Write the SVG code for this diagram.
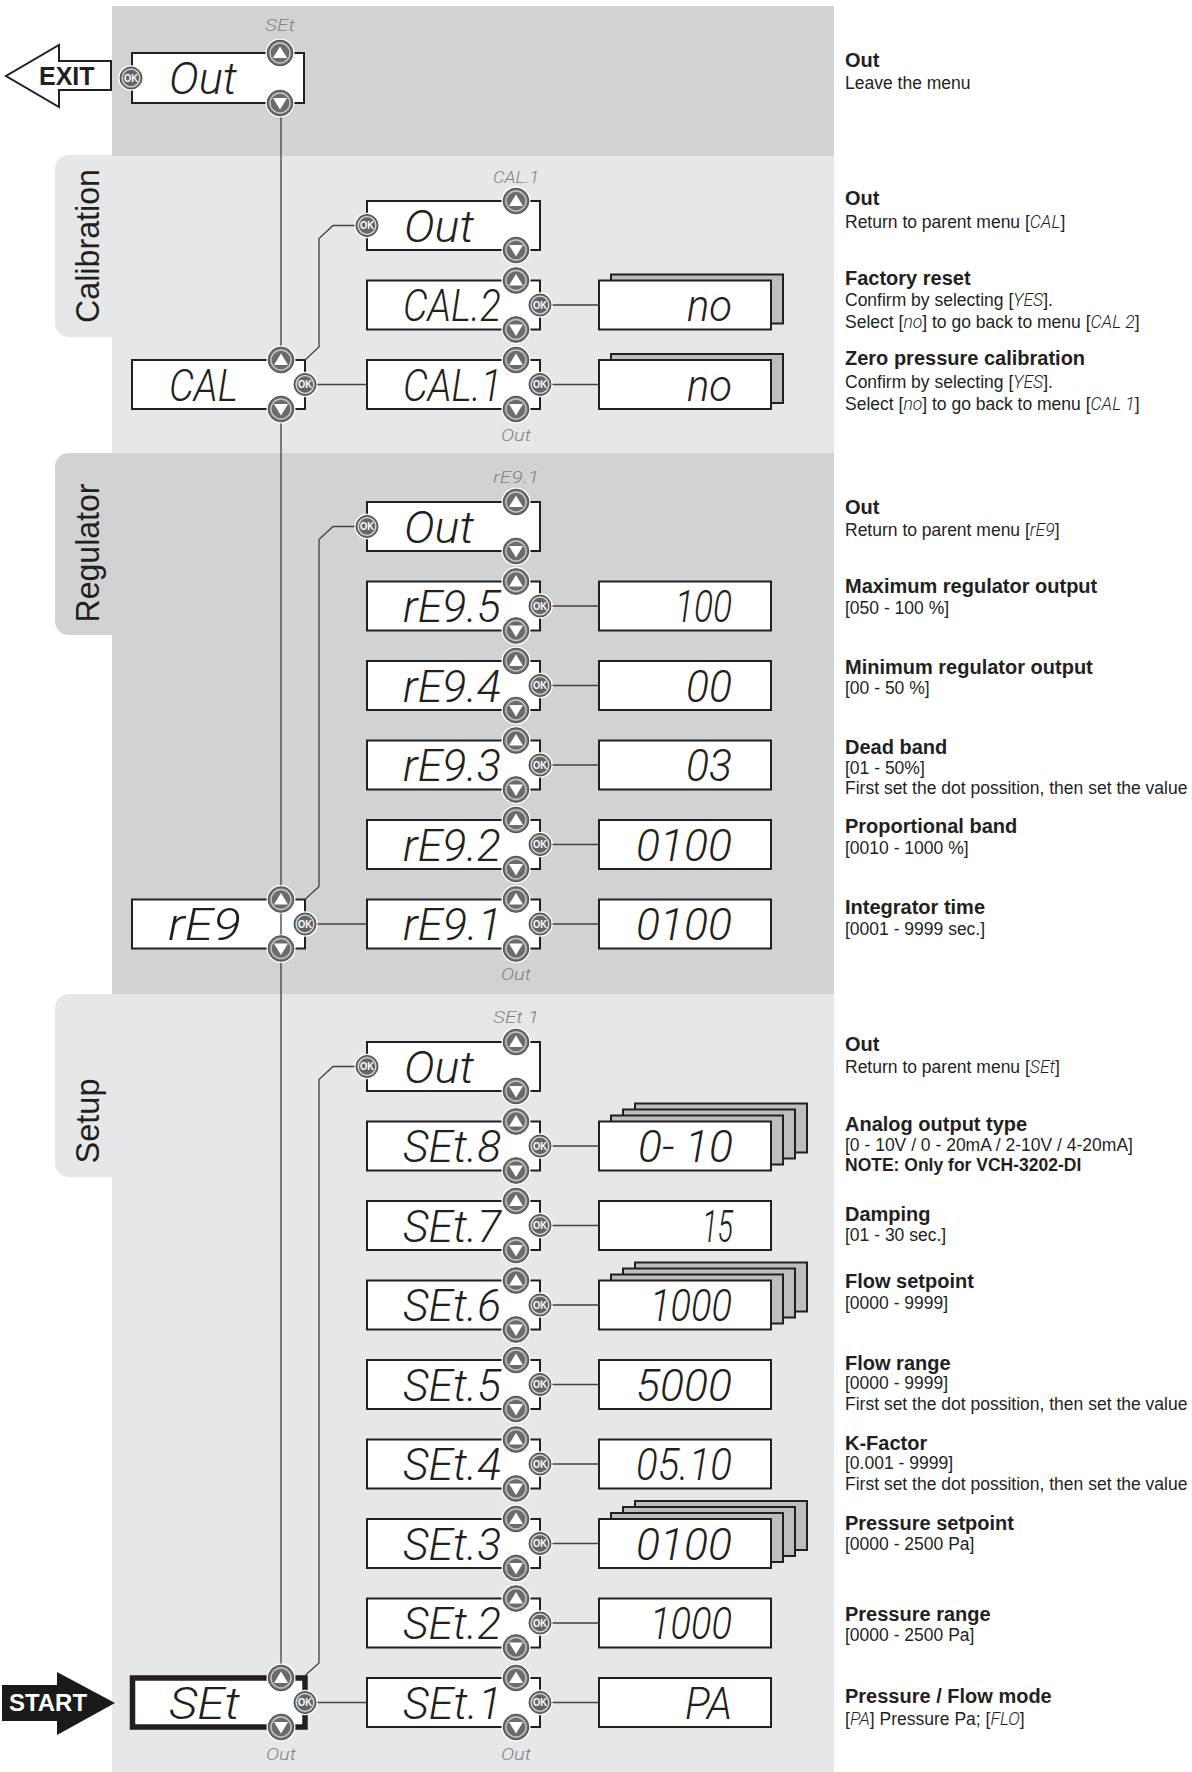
<svg xmlns="http://www.w3.org/2000/svg" width="1192" height="1772" viewBox="0 0 1192 1772">
<defs>
<style>
.pd{fill:#d1d2d4}
.pl{fill:#e6e7e8}
.box{fill:#fff;stroke:#231f20;stroke-width:2}
.bold{fill:#fff;stroke:#231f20;stroke-width:5.5}
.sh{fill:#bcbec0;stroke:#231f20;stroke-width:2}
.seg{font-family:Roboto,"Liberation Sans",sans-serif;font-weight:300;font-style:italic;font-size:45px;fill:#231f20}
.val{font-family:Roboto,"Liberation Sans",sans-serif;font-weight:300;font-style:italic;font-size:45px;fill:#231f20;text-anchor:end}
.lbl{font-family:Roboto,"Liberation Sans",sans-serif;font-weight:300;font-style:italic;font-size:17px;fill:#808285;text-anchor:middle}
.tab{font-family:"Liberation Sans",Arial,sans-serif;font-size:34px;fill:#231f20;text-anchor:middle}
.t{font-family:"Liberation Sans",Arial,sans-serif;font-weight:bold;font-size:20px;fill:#231f20}
.d{font-family:"Liberation Sans",Arial,sans-serif;font-size:17.5px;fill:#231f20}
.nb{font-family:"Liberation Sans",Arial,sans-serif;font-weight:bold;font-size:17.5px;fill:#231f20}
.s{font-family:Roboto,"Liberation Sans",sans-serif;font-weight:300;font-style:italic}
.ln{fill:none;stroke:#414042;stroke-width:1.3}
</style>
<g id="up">
<circle r="14.5" fill="#fff"/>
<circle r="12.8" fill="#6d6e71" stroke="#4d4d4f" stroke-width="1"/>
<circle r="10" fill="#6a6b6e" stroke="#c4c5c7" stroke-width="1.4"/>
<path d="M0,-6.5 L7,5 L-7,5 Z" fill="#fff"/>
</g>
<g id="dn">
<circle r="14.5" fill="#fff"/>
<circle r="12.8" fill="#6d6e71" stroke="#4d4d4f" stroke-width="1"/>
<circle r="10" fill="#6a6b6e" stroke="#c4c5c7" stroke-width="1.4"/>
<path d="M0,6.5 L7,-5 L-7,-5 Z" fill="#fff"/>
</g>
<g id="ok">
<circle r="12.8" fill="#fff"/>
<circle r="11" fill="#6d6e71" stroke="#4d4d4f" stroke-width="1"/>
<circle r="8.8" fill="#646568" stroke="#d8d9da" stroke-width="1.3"/>
<text y="3.8" text-anchor="middle" font-family="Liberation Sans, Arial, sans-serif" font-weight="bold" font-size="10.5" fill="#fff" textLength="14" lengthAdjust="spacingAndGlyphs">OK</text>
</g>
</defs>

<g id="panels">
<rect class="pd" x="112" y="6" width="722" height="150"/>
<rect class="pl" x="112" y="156" width="722" height="297"/>
<path class="pl" d="M112,155 H69 A14,14 0 0 0 55,169 V323 A14,14 0 0 0 69,337 H112 Z"/>
<rect class="pd" x="112" y="453" width="722" height="541"/>
<path class="pd" d="M112,453 H69 A14,14 0 0 0 55,467 V621 A14,14 0 0 0 69,635 H112 Z"/>
<rect class="pl" x="112" y="994" width="722" height="778"/>
<path class="pl" d="M112,994 H69 A14,14 0 0 0 55,1008 V1163 A14,14 0 0 0 69,1177 H112 Z"/>
<text class="tab" transform="translate(99,246) rotate(-90)" textLength="154" lengthAdjust="spacingAndGlyphs">Calibration</text>
<text class="tab" transform="translate(99,553) rotate(-90)" textLength="139" lengthAdjust="spacingAndGlyphs">Regulator</text>
<text class="tab" transform="translate(99,1121) rotate(-90)" textLength="85" lengthAdjust="spacingAndGlyphs">Setup</text>
</g>

<g id="exit">
<polygon points="111,61 59,61 59,45 6,76 59,107 59,90 111,90" fill="#fff" stroke="#231f20" stroke-width="2"/>
<text x="39" y="85" font-family="Liberation Sans, Arial, sans-serif" font-weight="bold" font-size="25" fill="#231f20">EXIT</text>
</g>

<g id="start">
<polygon points="2,1685 57,1685 57,1672 115,1703 57,1735 57,1721 2,1721" fill="#1a1a1a"/>
<text x="9" y="1711" font-family="Liberation Sans, Arial, sans-serif" font-weight="bold" font-size="23" fill="#fff" textLength="78" lengthAdjust="spacingAndGlyphs">START</text>
</g>

<g id="menu-out">
<rect class="box" x="132" y="53" width="172" height="50"/>
<text class="seg" x="169" y="94" textLength="68" lengthAdjust="spacingAndGlyphs">Out</text>
<use href="#ok" x="131" y="78"/>
<use href="#up" x="280" y="53"/>
<use href="#dn" x="280" y="103"/>
<text class="lbl" x="280" y="31" textLength="30" lengthAdjust="spacingAndGlyphs">SEt</text>
</g>

<!-- Calibration -->
<g id="cal">
<rect class="box" x="132" y="360" width="173" height="49"/>
<text class="seg" x="169" y="400.5" textLength="69" lengthAdjust="spacingAndGlyphs">CAL</text>
<use href="#up" x="281" y="360"/>
<use href="#dn" x="281" y="409"/>
<use href="#ok" x="305" y="384.5"/>
</g>
<g id="cal-out">
<rect class="box" x="367" y="201" width="173" height="49"/>
<text class="seg" x="404" y="241.5" textLength="70" lengthAdjust="spacingAndGlyphs">Out</text>
<use href="#ok" x="367" y="225.5"/>
<use href="#up" x="516" y="201"/>
<use href="#dn" x="516" y="250"/>
<text class="lbl" x="516" y="183" textLength="46" lengthAdjust="spacingAndGlyphs">CAL.1</text>
</g>
<g id="cal2">
<rect class="box" x="367" y="280.5" width="173" height="49"/>
<text class="seg" x="403" y="321" textLength="98" lengthAdjust="spacingAndGlyphs">CAL.2</text>
<use href="#up" x="516" y="280.5"/>
<use href="#dn" x="516" y="329.5"/>
<use href="#ok" x="540" y="305"/>
</g>
<g id="cal2-val">
<rect class="sh" x="611" y="274.5" width="172" height="49"/>
<rect class="box" x="599" y="280.5" width="172" height="49"/>
<text class="val" x="732" y="321" textLength="45" lengthAdjust="spacingAndGlyphs">no</text>
</g>
<g id="cal1">
<rect class="box" x="367" y="360" width="173" height="49"/>
<text class="seg" x="403" y="400.5" textLength="99" lengthAdjust="spacingAndGlyphs">CAL.1</text>
<use href="#up" x="516" y="360"/>
<use href="#dn" x="516" y="409"/>
<use href="#ok" x="540" y="384.5"/>
<text class="lbl" x="516" y="441" textLength="30" lengthAdjust="spacingAndGlyphs">Out</text>
</g>
<g id="cal1-val">
<rect class="sh" x="611" y="354" width="172" height="49"/>
<rect class="box" x="599" y="360" width="172" height="49"/>
<text class="val" x="732" y="400.5" textLength="45" lengthAdjust="spacingAndGlyphs">no</text>
</g>

<!-- Regulator -->
<g id="reg">
<rect class="box" x="132" y="899.5" width="173" height="49"/>
<text class="seg" x="168" y="940" textLength="73" lengthAdjust="spacingAndGlyphs">rE9</text>
<use href="#up" x="281" y="899.5"/>
<use href="#dn" x="281" y="948.5"/>
<use href="#ok" x="305" y="924"/>
</g>
<g id="reg-out">
<rect class="box" x="367" y="502" width="173" height="49"/>
<text class="seg" x="404" y="542.5" textLength="70" lengthAdjust="spacingAndGlyphs">Out</text>
<use href="#ok" x="367" y="526.5"/>
<use href="#up" x="516" y="502"/>
<use href="#dn" x="516" y="551"/>
<text class="lbl" x="516" y="483" textLength="46" lengthAdjust="spacingAndGlyphs">rE9.1</text>
</g>
<g id="reg5">
<rect class="box" x="367" y="581.5" width="173" height="49"/>
<text class="seg" x="403" y="622" textLength="98" lengthAdjust="spacingAndGlyphs">rE9.5</text>
<use href="#up" x="516" y="581.5"/>
<use href="#dn" x="516" y="630.5"/>
<use href="#ok" x="540" y="606"/>
</g>
<g id="reg5-val">
<rect class="box" x="599" y="581.5" width="172" height="49"/>
<text class="val" x="732" y="622" textLength="57" lengthAdjust="spacingAndGlyphs">100</text>
</g>
<g id="reg4">
<rect class="box" x="367" y="661" width="173" height="49"/>
<text class="seg" x="403" y="701.5" textLength="98" lengthAdjust="spacingAndGlyphs">rE9.4</text>
<use href="#up" x="516" y="661"/>
<use href="#dn" x="516" y="710"/>
<use href="#ok" x="540" y="685.5"/>
</g>
<g id="reg4-val">
<rect class="box" x="599" y="661" width="172" height="49"/>
<text class="val" x="732" y="701.5" textLength="46" lengthAdjust="spacingAndGlyphs">00</text>
</g>
<g id="reg3">
<rect class="box" x="367" y="740.5" width="173" height="49"/>
<text class="seg" x="403" y="781" textLength="98" lengthAdjust="spacingAndGlyphs">rE9.3</text>
<use href="#up" x="516" y="740.5"/>
<use href="#dn" x="516" y="789.5"/>
<use href="#ok" x="540" y="765"/>
</g>
<g id="reg3-val">
<rect class="box" x="599" y="740.5" width="172" height="49"/>
<text class="val" x="732" y="781" textLength="46" lengthAdjust="spacingAndGlyphs">03</text>
</g>
<g id="reg2">
<rect class="box" x="367" y="820" width="173" height="49"/>
<text class="seg" x="403" y="860.5" textLength="98" lengthAdjust="spacingAndGlyphs">rE9.2</text>
<use href="#up" x="516" y="820"/>
<use href="#dn" x="516" y="869"/>
<use href="#ok" x="540" y="844.5"/>
</g>
<g id="reg2-val">
<rect class="box" x="599" y="820" width="172" height="49"/>
<text class="val" x="732" y="860.5" textLength="96" lengthAdjust="spacingAndGlyphs">0100</text>
</g>
<g id="reg1">
<rect class="box" x="367" y="899.5" width="173" height="49"/>
<text class="seg" x="403" y="940" textLength="99" lengthAdjust="spacingAndGlyphs">rE9.1</text>
<use href="#up" x="516" y="899.5"/>
<use href="#dn" x="516" y="948.5"/>
<use href="#ok" x="540" y="924"/>
<text class="lbl" x="516" y="980" textLength="30" lengthAdjust="spacingAndGlyphs">Out</text>
</g>
<g id="reg1-val">
<rect class="box" x="599" y="899.5" width="172" height="49"/>
<text class="val" x="732" y="940" textLength="96" lengthAdjust="spacingAndGlyphs">0100</text>
</g>

<!-- Setup -->
<g id="set">
<rect class="bold" x="132.5" y="1678" width="172.5" height="49"/>
<text class="seg" x="169" y="1718.5" textLength="71" lengthAdjust="spacingAndGlyphs">SEt</text>
<use href="#up" x="281" y="1678"/>
<use href="#dn" x="281" y="1727"/>
<use href="#ok" x="305" y="1702.5"/>
<text class="lbl" x="281" y="1760" textLength="30" lengthAdjust="spacingAndGlyphs">Out</text>
</g>
<g id="set-out">
<rect class="box" x="367" y="1042" width="173" height="49"/>
<text class="seg" x="404" y="1082.5" textLength="70" lengthAdjust="spacingAndGlyphs">Out</text>
<use href="#ok" x="367" y="1066.5"/>
<use href="#up" x="516" y="1042"/>
<use href="#dn" x="516" y="1091"/>
<text class="lbl" x="516" y="1023" textLength="46" lengthAdjust="spacingAndGlyphs">SEt 1</text>
</g>
<g id="set8">
<rect class="box" x="367" y="1121.5" width="173" height="49"/>
<text class="seg" x="403" y="1162" textLength="98" lengthAdjust="spacingAndGlyphs">SEt.8</text>
<use href="#up" x="516" y="1121.5"/>
<use href="#dn" x="516" y="1170.5"/>
<use href="#ok" x="540" y="1146"/>
</g>
<g id="set8-val">
<rect class="sh" x="635" y="1103.5" width="172" height="49"/>
<rect class="sh" x="623" y="1109.5" width="172" height="49"/>
<rect class="sh" x="611" y="1115.5" width="172" height="49"/>
<rect class="box" x="599" y="1121.5" width="172" height="49"/>
<text class="val" x="733" y="1162" textLength="95" lengthAdjust="spacingAndGlyphs">0- 10</text>
</g>
<g id="set7">
<rect class="box" x="367" y="1201" width="173" height="49"/>
<text class="seg" x="403" y="1241.5" textLength="98" lengthAdjust="spacingAndGlyphs">SEt.7</text>
<use href="#up" x="516" y="1201"/>
<use href="#dn" x="516" y="1250"/>
<use href="#ok" x="540" y="1225.5"/>
</g>
<g id="set7-val">
<rect class="box" x="599" y="1201" width="172" height="49"/>
<text class="val" x="733" y="1241.5" textLength="31" lengthAdjust="spacingAndGlyphs">15</text>
</g>
<g id="set6">
<rect class="box" x="367" y="1280.5" width="173" height="49"/>
<text class="seg" x="403" y="1321" textLength="98" lengthAdjust="spacingAndGlyphs">SEt.6</text>
<use href="#up" x="516" y="1280.5"/>
<use href="#dn" x="516" y="1329.5"/>
<use href="#ok" x="540" y="1305"/>
</g>
<g id="set6-val">
<rect class="sh" x="635" y="1262.5" width="172" height="49"/>
<rect class="sh" x="623" y="1268.5" width="172" height="49"/>
<rect class="sh" x="611" y="1274.5" width="172" height="49"/>
<rect class="box" x="599" y="1280.5" width="172" height="49"/>
<text class="val" x="732" y="1321" textLength="82" lengthAdjust="spacingAndGlyphs">1000</text>
</g>
<g id="set5">
<rect class="box" x="367" y="1360" width="173" height="49"/>
<text class="seg" x="403" y="1400.5" textLength="98" lengthAdjust="spacingAndGlyphs">SEt.5</text>
<use href="#up" x="516" y="1360"/>
<use href="#dn" x="516" y="1409"/>
<use href="#ok" x="540" y="1384.5"/>
</g>
<g id="set5-val">
<rect class="box" x="599" y="1360" width="172" height="49"/>
<text class="val" x="732" y="1400.5" textLength="96" lengthAdjust="spacingAndGlyphs">5000</text>
</g>
<g id="set4">
<rect class="box" x="367" y="1439.5" width="173" height="49"/>
<text class="seg" x="403" y="1480" textLength="98" lengthAdjust="spacingAndGlyphs">SEt.4</text>
<use href="#up" x="516" y="1439.5"/>
<use href="#dn" x="516" y="1488.5"/>
<use href="#ok" x="540" y="1464"/>
</g>
<g id="set4-val">
<rect class="box" x="599" y="1439.5" width="172" height="49"/>
<text class="val" x="732" y="1480" textLength="96" lengthAdjust="spacingAndGlyphs">05.10</text>
</g>
<g id="set3">
<rect class="box" x="367" y="1519" width="173" height="49"/>
<text class="seg" x="403" y="1559.5" textLength="98" lengthAdjust="spacingAndGlyphs">SEt.3</text>
<use href="#up" x="516" y="1519"/>
<use href="#dn" x="516" y="1568"/>
<use href="#ok" x="540" y="1543.5"/>
</g>
<g id="set3-val">
<rect class="sh" x="635" y="1501" width="172" height="49"/>
<rect class="sh" x="623" y="1507" width="172" height="49"/>
<rect class="sh" x="611" y="1513" width="172" height="49"/>
<rect class="box" x="599" y="1519" width="172" height="49"/>
<text class="val" x="732" y="1559.5" textLength="96" lengthAdjust="spacingAndGlyphs">0100</text>
</g>
<g id="set2">
<rect class="box" x="367" y="1598.5" width="173" height="49"/>
<text class="seg" x="403" y="1639" textLength="98" lengthAdjust="spacingAndGlyphs">SEt.2</text>
<use href="#up" x="516" y="1598.5"/>
<use href="#dn" x="516" y="1647.5"/>
<use href="#ok" x="540" y="1623"/>
</g>
<g id="set2-val">
<rect class="box" x="599" y="1598.5" width="172" height="49"/>
<text class="val" x="732" y="1639" textLength="82" lengthAdjust="spacingAndGlyphs">1000</text>
</g>
<g id="set1">
<rect class="box" x="367" y="1678" width="173" height="49"/>
<text class="seg" x="403" y="1718.5" textLength="99" lengthAdjust="spacingAndGlyphs">SEt.1</text>
<use href="#up" x="516" y="1678"/>
<use href="#dn" x="516" y="1727"/>
<use href="#ok" x="540" y="1702.5"/>
<text class="lbl" x="516" y="1760" textLength="30" lengthAdjust="spacingAndGlyphs">Out</text>
</g>
<g id="set1-val">
<rect class="box" x="599" y="1678" width="172" height="49"/>
<text class="val" x="732" y="1718.5" textLength="47" lengthAdjust="spacingAndGlyphs">PA</text>
</g>

<g id="connectors" class="ln">
<path d="M281,117.5 V345.5 M281,423.5 V885 M281,913.5 V934.5 M281,963 V1663.5"/>
<path d="M305,360 L319,347 V238.5 L333,225.5 H354.5"/>
<path d="M305,899.5 L319,886.5 V539.5 L333,526.5 H354.5"/>
<path d="M305,1675.5 L319,1663 V1079.5 L333,1066.5 H354.5"/>
<path d="M317.5,384.5 H367 M317.5,924 H367 M317.5,1702.5 H367"/>
<path d="M552.5,305 H599 M552.5,384.5 H599 M552.5,606 H599 M552.5,685.5 H599 M552.5,765 H599 M552.5,844.5 H599 M552.5,924 H599 M552.5,1146 H599 M552.5,1225.5 H599 M552.5,1305 H599 M552.5,1384.5 H599 M552.5,1464 H599 M552.5,1543.5 H599 M552.5,1623 H599 M552.5,1702.5 H599"/>
</g>

<g id="descriptions">
<text class="t" x="845" y="67">Out</text>
<text class="d" x="845" y="88.5">Leave the menu</text>
<text class="t" x="845" y="205">Out</text>
<text class="d" x="845" y="227.5">Return to parent menu [<tspan class="s">CAL</tspan>]</text>
<text class="t" x="845" y="285">Factory reset</text>
<text class="d" x="845" y="306">Confirm by selecting [<tspan class="s">YES</tspan>].</text>
<text class="d" x="845" y="327.5">Select [<tspan class="s">no</tspan>] to go back to menu [<tspan class="s">CAL 2</tspan>]</text>
<text class="t" x="845" y="365">Zero pressure calibration</text>
<text class="d" x="845" y="387.5">Confirm by selecting [<tspan class="s">YES</tspan>].</text>
<text class="d" x="845" y="410">Select [<tspan class="s">no</tspan>] to go back to menu [<tspan class="s">CAL 1</tspan>]</text>
<text class="t" x="845" y="514">Out</text>
<text class="d" x="845" y="536">Return to parent menu [<tspan class="s">rE9</tspan>]</text>
<text class="t" x="845" y="593">Maximum regulator output</text>
<text class="d" x="845" y="614">[050 - 100 %]</text>
<text class="t" x="845" y="673.5">Minimum regulator output</text>
<text class="d" x="845" y="694">[00 - 50 %]</text>
<text class="t" x="845" y="753.5">Dead band</text>
<text class="d" x="845" y="773.5">[01 - 50%]</text>
<text class="d" x="845" y="793.5">First set the dot possition, then set the value</text>
<text class="t" x="845" y="833">Proportional band</text>
<text class="d" x="845" y="853.5">[0010 - 1000 %]</text>
<text class="t" x="845" y="914">Integrator time</text>
<text class="d" x="845" y="934.5">[0001 - 9999 sec.]</text>
<text class="t" x="845" y="1051">Out</text>
<text class="d" x="845" y="1072.5">Return to parent menu [<tspan class="s">SEt</tspan>]</text>
<text class="t" x="845" y="1131">Analog output type</text>
<text class="d" x="845" y="1150.5">[0 - 10V / 0 - 20mA / 2-10V / 4-20mA]</text>
<text class="nb" x="845" y="1171">NOTE: Only for VCH-3202-DI</text>
<text class="t" x="845" y="1220.5">Damping</text>
<text class="d" x="845" y="1241">[01 - 30 sec.]</text>
<text class="t" x="845" y="1288">Flow setpoint</text>
<text class="d" x="845" y="1309">[0000 - 9999]</text>
<text class="t" x="845" y="1369.5">Flow range</text>
<text class="d" x="845" y="1389">[0000 - 9999]</text>
<text class="d" x="845" y="1409.5">First set the dot possition, then set the value</text>
<text class="t" x="845" y="1449.5">K-Factor</text>
<text class="d" x="845" y="1469">[0.001 - 9999]</text>
<text class="d" x="845" y="1489.5">First set the dot possition, then set the value</text>
<text class="t" x="845" y="1530">Pressure setpoint</text>
<text class="d" x="845" y="1549.5">[0000 - 2500 Pa]</text>
<text class="t" x="845" y="1620.5">Pressure range</text>
<text class="d" x="845" y="1641">[0000 - 2500 Pa]</text>
<text class="t" x="845" y="1703">Pressure / Flow mode</text>
<text class="d" x="845" y="1724.5">[<tspan class="s">PA</tspan>] Pressure Pa; [<tspan class="s">FLO</tspan>]</text>
</g>
</svg>
